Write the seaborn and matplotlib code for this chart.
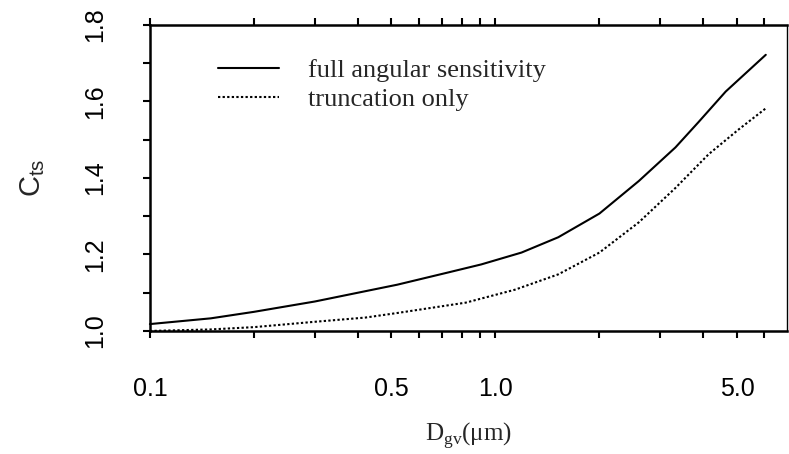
import pandas as pd
import seaborn as sns
import matplotlib.pyplot as plt
from matplotlib.ticker import FixedLocator, FixedFormatter, NullFormatter

# values
d_full = [0.1, 0.15, 0.2, 0.3, 0.52, 0.73, 0.91, 1.19, 1.52, 2.0, 2.6, 3.32, 3.87, 4.64, 6.06]
c_full = [1.018, 1.033, 1.05, 1.077, 1.121, 1.153, 1.174, 1.205, 1.245, 1.307, 1.392, 1.480, 1.546, 1.626, 1.722]

d_trunc = [0.1, 0.15, 0.2, 0.3, 0.42, 0.52, 0.82, 1.14, 1.52, 2.0, 2.6, 3.32, 4.14, 5.06, 6.06]
c_trunc = [1.0, 1.004, 1.01, 1.024, 1.035, 1.047, 1.074, 1.108, 1.148, 1.205, 1.284, 1.374, 1.462, 1.527, 1.582]

xticks_major = [0.1, 0.5, 1.0, 5.0]
xtick_labels = ["0.1", "0.5", "1.0", "5.0"]
xticks_minor = [0.2, 0.3, 0.4, 0.6, 0.7, 0.8, 0.9, 2, 3, 4, 6]
yticks_major = [1.0, 1.2, 1.4, 1.6, 1.8]
yticks_minor = [1.1, 1.3, 1.5, 1.7]

df = pd.concat([
    pd.DataFrame({"D": d_full, "C": c_full, "case": "full angular sensitivity"}),
    pd.DataFrame({"D": d_trunc, "C": c_trunc, "case": "truncation only"}),
])

sns.set_theme(style="ticks")
plt.rcParams["font.family"] = ["Liberation Sans", "DejaVu Sans"]
plt.rcParams["mathtext.fontset"] = "custom"
plt.rcParams["mathtext.rm"] = "Liberation Serif"
plt.rcParams["mathtext.sf"] = "Liberation Sans"

fig = plt.figure(figsize=(7.89, 4.54), dpi=100)
ax = fig.add_axes([0.190, 0.271, 0.808, 0.674])

sns.lineplot(data=df, x="D", y="C", hue="case", style="case",
             palette=["black", "black"],
             dashes={"full angular sensitivity": "", "truncation only": (1.1, 1.1)},
             linewidth=1.5, ax=ax)
for ln in ax.lines:
    ln.set_clip_on(False)

ax.set_xscale("log")
ax.set_xlim(0.1, 7.0)
ax.set_ylim(1.0, 1.8)

ax.xaxis.set_major_locator(FixedLocator(xticks_major))
ax.xaxis.set_major_formatter(FixedFormatter(xtick_labels))
ax.xaxis.set_minor_locator(FixedLocator(xticks_minor))
ax.xaxis.set_minor_formatter(NullFormatter())
ax.yaxis.set_major_locator(FixedLocator(yticks_major))
ax.yaxis.set_minor_locator(FixedLocator(yticks_minor))

ax.tick_params(axis="x", which="both", direction="out", length=5, width=1.5,
               top=True, bottom=True, labelsize=18, pad=28, colors="black")
ax.tick_params(axis="y", which="both", direction="out", length=5, width=1.5,
               left=True, right=False, labelsize=18, pad=26, colors="black")
for lab in ax.get_yticklabels():
    lab.set_rotation(90)
    lab.set_va("center")

for side in ["left", "top", "bottom"]:
    ax.spines[side].set_linewidth(1.8)
    ax.spines[side].set_color("black")
ax.spines["right"].set_linewidth(1.0)
ax.spines["right"].set_color("black")

ax.set_xlabel(r"D$_{\mathrm{gv}}$(μm)", fontfamily="Liberation Serif", fontsize=18, labelpad=14)
ax.set_ylabel(r"C$_{\mathsf{ts}}$", fontsize=21, labelpad=26)

leg = ax.legend(loc="upper left", bbox_to_anchor=(0.07, 0.968), frameon=False,
                prop={"family": "Liberation Serif", "size": 19},
                handlelength=2.3, handletextpad=1.1, labelspacing=0.22)

fig.savefig("out.png", dpi=100)
